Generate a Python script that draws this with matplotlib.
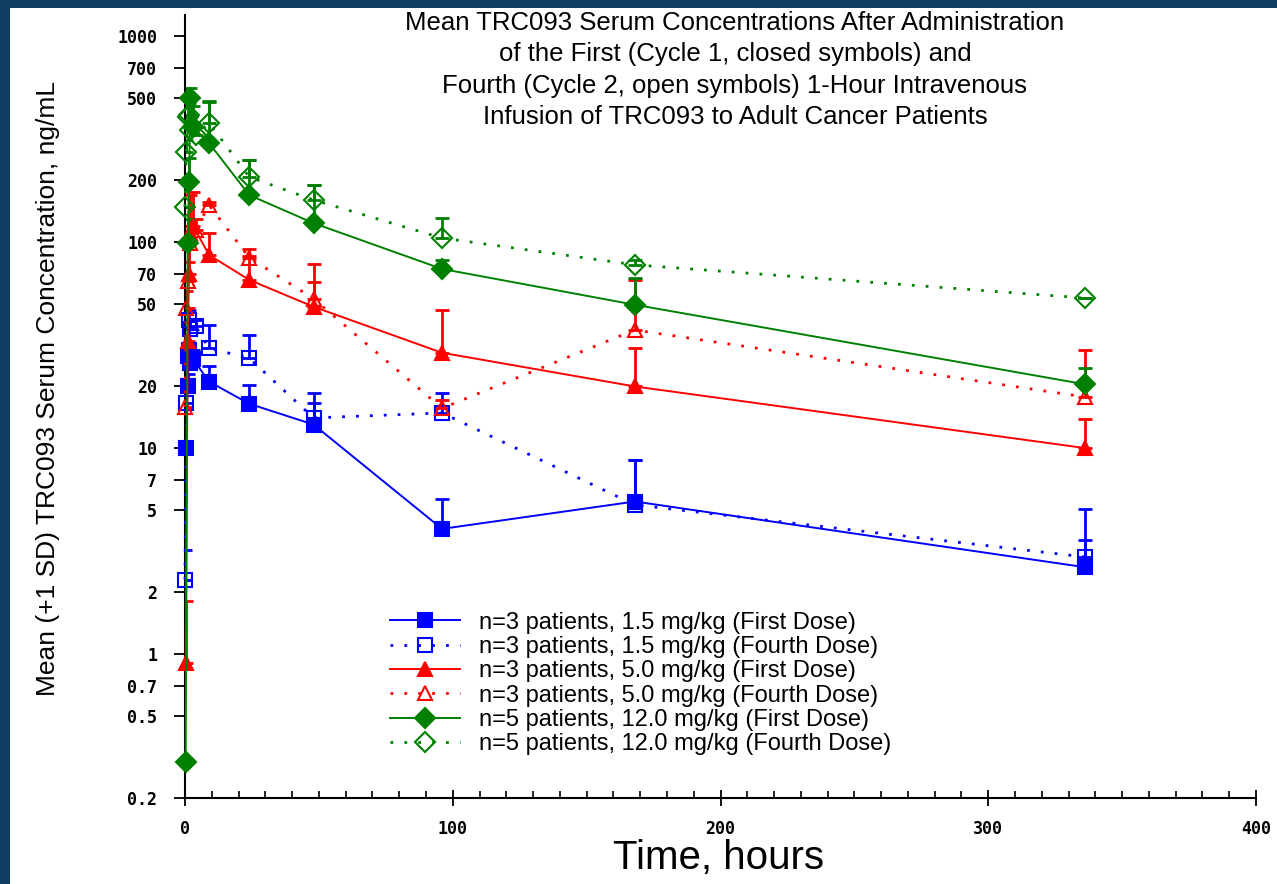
import numpy as np
import matplotlib
matplotlib.use("Agg")
import matplotlib.pyplot as plt
from matplotlib.patches import Rectangle

# time (hours), mean and +1 SD
t_lo_first = [0.25, 1, 1.5, 2, 3, 9, 24, 48, 96, 168, 336]
m_lo_first = [10, 20, 30, 26, 27, 21, 16.4, 13, 4.05, 5.5, 2.64]
sd_lo_first = [0, 3, 8, 4, 3, 4, 3.9, 5.5, 1.6, 3.2, 2.4]

t_lo_fourth = [0, 0.5, 1, 1.5, 2, 4, 9, 24, 48, 96, 168, 336]
m_lo_fourth = [2.3, 16.5, 28, 42, 38, 39, 30.5, 27.3, 14, 14.8, 5.3, 2.96]
sd_lo_fourth = [0.9, 3, 4, 5, 4, 3, 9, 8, 2.6, 3.7, 3.4, 0.6]

t_mid_first = [0.25, 1, 1.5, 2, 3, 9, 24, 48, 96, 168, 336]
m_mid_first = [0.9, 33, 70, 110, 120, 86.5, 65.5, 48.5, 29, 19.9, 10]
sd_mid_first = [0.9, 15, 30, 60, 55, 24, 27, 30, 17.6, 10.7, 3.8]

t_mid_fourth = [0, 0.5, 1, 2, 4, 9, 24, 48, 96, 168, 336]
m_mid_fourth = [15.8, 48, 65, 99, 115, 151, 84, 53, 15.6, 37.4, 17.7]
sd_mid_fourth = [3, 10, 15, 20, 15, 5, 1.6, 11, 1.5, 28, 12.3]

t_hi_first = [0.25, 1, 1.5, 2, 3, 9, 24, 48, 96, 168, 336]
m_hi_first = [0.3, 99, 196, 500, 360, 302, 169, 123.5, 74, 49.6, 20.4]
sd_hi_first = [0, 30, 60, 60, 100, 180, 80, 65, 7.7, 17, 4.1]

t_hi_fourth = [0, 0.5, 1, 1.5, 2, 4, 9, 24, 48, 96, 168, 336]
m_hi_fourth = [148, 274, 405, 413, 350, 330, 379, 207, 160, 104.6, 77.5, 53.5]
sd_hi_fourth = [0, 40, 90, 60, 40, 30, 100, 43, 29, 26, 4.2, 0]

labels = [
    "n=3 patients, 1.5 mg/kg (First Dose)",
    "n=3 patients, 1.5 mg/kg (Fourth Dose)",
    "n=3 patients, 5.0 mg/kg (First Dose)",
    "n=3 patients, 5.0 mg/kg (Fourth Dose)",
    "n=5 patients, 12.0 mg/kg (First Dose)",
    "n=5 patients, 12.0 mg/kg (Fourth Dose)",
]
y_ticks = [0.2, 0.5, 0.7, 1, 2, 5, 7, 10, 20, 50, 70, 100, 200, 500, 700, 1000]
y_tick_labels = ["0.2", "0.5", "0.7", "1", "2", "5", "7", "10", "20", "50", "70",
                 "100", "200", "500", "700", "1000"]

series = [
    (t_lo_first, m_lo_first, sd_lo_first, "#0000ff", "s", True),
    (t_lo_fourth, m_lo_fourth, sd_lo_fourth, "#0000ff", "s", False),
    (t_mid_first, m_mid_first, sd_mid_first, "#ff0000", "^", True),
    (t_mid_fourth, m_mid_fourth, sd_mid_fourth, "#ff0000", "^", False),
    (t_hi_first, m_hi_first, sd_hi_first, "#008000", "D", True),
    (t_hi_fourth, m_hi_fourth, sd_hi_fourth, "#008000", "D", False),
]

plt.rcParams["font.family"] = ["Liberation Sans", "DejaVu Sans"]

fig = plt.figure(figsize=(12.77, 8.84), dpi=100)
fig.patch.set_facecolor("#0d3d63")
fig.patches.append(Rectangle((10 / 1277, 0), 1, 1 - 8 / 884, transform=fig.transFigure,
                             facecolor="white", edgecolor="none", zorder=-10))

ax = fig.add_axes([185 / 1277, 1 - 798 / 884, (1256 - 185) / 1277, (798 - 15) / 884])
ax.set_facecolor("none")
ax.set_zorder(5)

for (t, m, sd, col, mk, filled), lab in zip(series, labels):
    ls = "-" if filled else (0, (1, 4))
    lw = 1.4 if filled else 2.0
    ax.errorbar(t, m, yerr=[np.zeros(len(sd)), sd], fmt="none", ecolor=col,
                elinewidth=2, capsize=5, capthick=2, zorder=2)
    ax.plot(t, m, color=col, linestyle=ls, linewidth=lw, marker=mk, markersize=10,
            markerfacecolor=col if filled else "none", markeredgecolor=col,
            markeredgewidth=1.5, label=lab, zorder=3, clip_on=False)

ax.set_yscale("log")
ax.set_ylim(0.2, 1265)
ax.set_xlim(0, 400)
ax.set_yticks(y_ticks)
ax.set_yticklabels(y_tick_labels)
ax.yaxis.set_minor_locator(matplotlib.ticker.NullLocator())
ax.set_xticks([0, 100, 200, 300, 400])
ax.set_xticks(np.arange(0, 401, 10), minor=True)

for s in ["top", "right"]:
    ax.spines[s].set_visible(False)
ax.spines["left"].set_linewidth(1.5)
ax.spines["bottom"].set_linewidth(1.5)
ax.tick_params(axis="y", direction="out", length=8, width=1.3, pad=12, labelsize=12)
ax.tick_params(axis="x", which="major", direction="inout", length=12, width=1.3,
               pad=10, labelsize=12)
ax.tick_params(axis="x", which="minor", direction="in", length=5, width=1.2)
for lbl in ax.get_xticklabels() + ax.get_yticklabels():
    lbl.set_fontweight("bold")
    lbl.set_family(["DejaVu Sans Mono"])

ax.legend(loc="upper left", bbox_to_anchor=(0.191, 0.238), frameon=False,
          fontsize=17, handlelength=3.0, handletextpad=0.8, labelspacing=0.1,
          borderpad=0, borderaxespad=0)

fig.text(0.5755, 0.988,
         "Mean TRC093 Serum Concentrations After Administration\n"
         "of the First (Cycle 1, closed symbols) and\n"
         "Fourth (Cycle 2, open symbols) 1-Hour Intravenous\n"
         "Infusion of TRC093 to Adult Cancer Patients",
         ha="center", va="top", fontsize=18.5, linespacing=1.4)
fig.text(0.563, 0.029, "Time, hours", ha="center", va="center", fontsize=29)
fig.text(0.0376, 0.561, "Mean (+1 SD) TRC093 Serum Concentration, ng/mL",
         ha="center", va="center", rotation=90, fontsize=19)

fig.savefig("out.png", dpi=100, facecolor=fig.get_facecolor())
